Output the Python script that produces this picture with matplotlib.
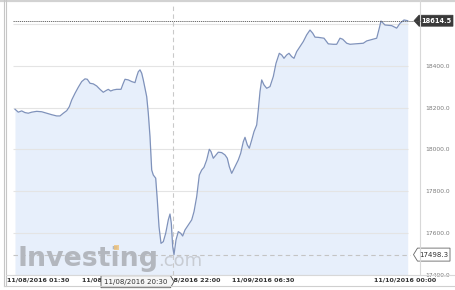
import matplotlib
matplotlib.use('Agg')
import matplotlib.pyplot as plt
from matplotlib.patches import Polygon, Rectangle

# traced samples: chart position (bar units from the first sample) and price
pos = [0, 3.3, 6.7, 10, 13.3, 16.7, 21.7, 26.7, 31.7, 36.7, 41.7, 45, 48.3, 51.7,
       54.3, 56.7, 60, 63.3, 66.7, 70, 72.3, 75, 78.3, 81.7, 85, 88.3, 91, 93.3,
       95.7, 98.3, 101.7, 106, 108.3, 110, 113.3, 116.7, 120, 121.7, 123.3, 125,
       126.7, 128.3, 131.7, 133.3, 135, 136.7, 138.3, 140.7, 142.3, 144, 146,
       148.3, 150.7, 153.3, 155, 156.3, 157.7, 159, 161, 163.3, 165.7, 167.7, 170,
       173.3, 176.7, 179, 181.7, 184.3, 186.7, 189, 191.7, 194.3, 196, 198.3, 201,
       203.3, 206.7, 210, 212.3, 214.3, 216.7, 220, 223.3, 225.7, 228.3, 230,
       232.3, 234.3, 236.7, 239, 241.7, 243.3, 245, 246.7, 249, 251.7, 255, 258.3,
       261, 264.3, 266.7, 269, 271.7, 274, 276.7, 279, 281.7, 285, 288.3, 291.7,
       295, 297.7, 300, 303.3, 309, 313.3, 318.3, 321.7, 325, 327.7, 331.7, 335,
       348.3, 351.7, 361.7, 364.3, 366, 370, 376.7, 381.7, 385, 389, 392.7]
price = [18192, 18178, 18184, 18176, 18173, 18178, 18182, 18180, 18173, 18166,
         18160, 18160, 18173, 18185, 18204, 18236, 18268, 18297, 18324, 18337,
         18335, 18316, 18313, 18303, 18287, 18273, 18281, 18287, 18279, 18284,
         18287, 18287, 18316, 18335, 18332, 18324, 18319, 18348, 18371, 18380,
         18364, 18332, 18252, 18173, 18061, 17902, 17878, 17863, 17759, 17632,
         17552, 17560, 17600, 17664, 17692, 17648, 17536, 17498.3, 17568, 17608,
         17600, 17587, 17616, 17640, 17664, 17703, 17775, 17878, 17902, 17915,
         17950, 18001, 17990, 17958, 17974, 17987, 17985, 17974, 17958, 17918,
         17886, 17918, 17950, 17982, 18037, 18058, 18022, 18006, 18045, 18085,
         18117, 18189, 18276, 18332, 18308, 18292, 18300, 18348, 18411, 18459,
         18451, 18435, 18451, 18459, 18443, 18435, 18467, 18491, 18515, 18547,
         18570, 18555, 18536, 18535, 18531, 18504, 18502, 18502, 18531, 18526,
         18507, 18502, 18507, 18518, 18531, 18579, 18613, 18594, 18591, 18579,
         18602, 18618, 18614.5]

ytick_vals = [17400, 17600, 17800, 18000, 18200, 18400]
grid_vals = [17400, 17600, 17800, 18000, 18200, 18400, 18600]
xtick_pos = [23.3, 98, 174, 248, 390]
xtick_labels = ['11/08/2016 01:30', '11/08/2016 12:00', '11/08/2016 22:00',
                '11/09/2016 06:30', '11/10/2016 00:00']
cross_pos = 157.7
cross_label = '11/08/2016 20:30'
low_val = 17498.3
last_val = 18614.5

LINE = '#7f92bb'
FILL = '#e7effb'
W, H = 455, 290

fig = plt.figure(figsize=(W / 100, H / 100), dpi=100)
fig.patch.set_facecolor('white')
ax = fig.add_axes([13 / W, (H - 275.2) / H, 407 / W, (275.2 - 3) / H])
ax.set_xlim(-2, 405)
ax.set_ylim(17400, 18699)
ax.set_facecolor('white')

ax.fill_between(pos, price, 17400, color=FILL, lw=0, zorder=1)
ax.hlines(grid_vals, -2, pos[-1], color='#e4e4e4', lw=0.8, zorder=1.5)
ax.plot(pos, price, color=LINE, lw=0.9, zorder=3)
ax.axvline(cross_pos, color='#c9c9c9', lw=0.8, ls=(0, (4, 3)), zorder=2)
ax.hlines(low_val, -2, pos[-1] + 2, color='#c4c4c4', lw=0.8, ls=(0, (4, 3)), zorder=2)

for s in ax.spines.values():
    s.set_visible(False)
ax.yaxis.tick_right()
ax.set_yticks(ytick_vals, [f'{v:.1f}' for v in ytick_vals])
ax.tick_params(axis='y', length=0, pad=3.6, labelsize=4.3, labelcolor='#7a7a7a')
ax.set_xticks(xtick_pos, xtick_labels)
ax.tick_params(axis='x', length=0, pad=1.6, labelsize=4.6, labelcolor='#333333')
for lab in ax.get_xticklabels():
    lab.set_fontweight('bold')

# pixel positions (image coords, y down) of the tagged values
def to_img(x, y):
    dx, dy = ax.transData.transform((x, y))
    return dx, H - dy

_, y_last = to_img(pos[-1], last_val)
_, y_low = to_img(pos[-1], low_val)
x_cross, _ = to_img(cross_pos, low_val)
_, y_bottom = to_img(0, 17400)

ov = fig.add_axes([0, 0, 1, 1], zorder=5)
ov.set_xlim(0, W)
ov.set_ylim(H, 0)
ov.axis('off')
ov.patch.set_visible(False)

# frame lines
ov.plot([0, W], [0.8, 0.8], color='#d2d2d2', lw=1.6)
ov.plot([3.5, 3.5], [0, 286], color='#c6c6c6', lw=0.8)
ov.plot([6, 6], [0, 286], color='#c6c6c6', lw=0.8)
ov.plot([3.5, W], [285.8, 285.8], color='#cfcfcf', lw=0.8)
ov.plot([6, W], [y_bottom, y_bottom], color='#d8d8d8', lw=0.8)
ov.plot([420, 420], [0, y_bottom], color='#d8d8d8', lw=0.8)

# last value dotted line and tag
ov.plot([13, 420], [y_last, y_last], color='#555555', lw=0.6, ls=(0, (1.5, 1)))
ov.add_patch(Polygon([(414, y_last), (419, y_last - 5.5), (453, y_last - 5.5),
                      (453, y_last + 5.5), (419, y_last + 5.5)],
                     closed=True, facecolor='#3a3a3a', edgecolor='#3a3a3a', lw=0.5))
ov.text(436, y_last, f'{last_val:.1f}', color='white', fontsize=4.8, fontweight='bold',
        ha='center', va='center')

# low value tag
ov.add_patch(Polygon([(413.5, y_low), (417.5, y_low - 6.5), (450, y_low - 6.5),
                      (450, y_low + 6.5), (417.5, y_low + 6.5)],
                     closed=True, facecolor='white', edgecolor='#666666', lw=0.6))
ov.text(434, y_low, f'{low_val:.1f}', color='#333333', fontsize=5,
        ha='center', va='center')

# crosshair time tag
tip = x_cross + 1.3
ov.add_patch(Polygon([(101, 275.7), (tip - 3.5, 275.7), (tip, 281.7),
                      (tip - 3.5, 287.7), (101, 287.7)],
                     closed=True, facecolor='#f6f6f6', edgecolor='#555555', lw=0.6))
ov.text((101 + tip - 3.5) / 2, 281.9, cross_label, color='#333333', fontsize=5.1,
        ha='center', va='center')

# watermark
ov.text(18, 265.7, 'Investing', fontsize=19.3, fontweight='bold', color='#b3b7be',
        va='baseline', ha='left', zorder=1)
ov.add_patch(Rectangle((114, 245.3), 4.5, 4.2, color='#efc27a', alpha=0.8, lw=0))
ov.text(158.5, 265.7, '.com', fontsize=13, color='#c8ccd3', va='baseline', ha='left')

fig.savefig('out.png', dpi=100)
